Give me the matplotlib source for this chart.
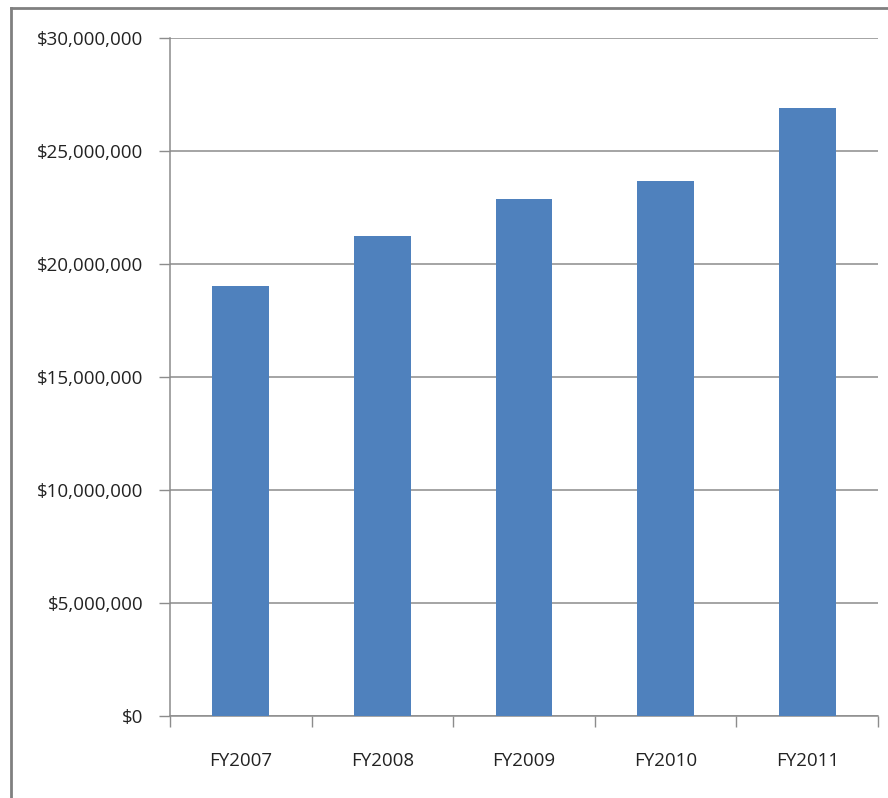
import matplotlib.pyplot as plt
from matplotlib.ticker import FuncFormatter
from matplotlib.lines import Line2D

years = ["FY2007", "FY2008", "FY2009", "FY2010", "FY2011"]
funding = [19030000, 21250000, 22880000, 23670000, 26900000]
yticks = [0, 5000000, 10000000, 15000000, 20000000, 25000000, 30000000]

plt.rcParams['font.family'] = ['Open Sans', 'DejaVu Sans']

fig = plt.figure(figsize=(8.88, 7.98), dpi=100)
ax = fig.add_axes([170/888, 1-716/798, 708/888, 678/798])

x = list(range(len(years)))
ax.bar(x, funding, width=0.40, color="#4F81BD", zorder=3)

ax.set_xlim(-0.5, len(years)-0.5)
ax.set_ylim(0, 30000000)
ax.set_yticks(yticks)
ax.yaxis.set_major_formatter(FuncFormatter(lambda v, p: "${:,.0f}".format(v)))
ax.grid(axis="y", color="#8c8c8c", linewidth=1.1, zorder=0)

ax.set_xticks([i - 0.5 for i in x] + [len(years)-0.5], minor=False)
ax.set_xticklabels([])
ax.set_xticks(x, minor=True)
ax.set_xticklabels(years, minor=True)
ax.tick_params(axis="x", which="major", length=8, color="#8c8c8c", width=1)
ax.tick_params(axis="x", which="minor", length=0, pad=26, labelsize=13.5, labelcolor="#222222")
ax.tick_params(axis="y", length=8, color="#8c8c8c", width=1, pad=11, labelsize=13.5, labelcolor="#222222")

for s in ["top", "right"]:
    ax.spines[s].set_visible(False)
ax.spines["left"].set_color("#8c8c8c")
ax.spines["bottom"].set_color("#8c8c8c")
ax.spines["left"].set_linewidth(1.1)
ax.spines["bottom"].set_linewidth(1.1)

# outer chart border (top and left visible)
fig.add_artist(Line2D([11/888, 11/888], [0, 1-8/798], transform=fig.transFigure, color="#808080", linewidth=2))
fig.add_artist(Line2D([11/888, 1], [1-8/798, 1-8/798], transform=fig.transFigure, color="#808080", linewidth=2))

fig.savefig("out.png", dpi=100)
